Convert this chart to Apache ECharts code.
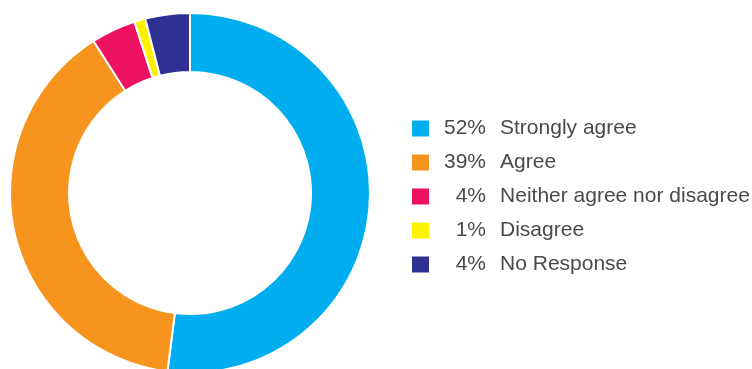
<!DOCTYPE html>
<html>
<head>
<meta charset="utf-8">
<script src="https://cdn.jsdelivr.net/npm/echarts@6/dist/echarts.min.js"></script>
<style>
  html, body { margin: 0; padding: 0; background: #fff; }
  #chart { width: 752px; height: 369px; }
</style>
</head>
<body>
<div id="chart"></div>
<script>
// Survey response shares (percent)
const categories = ['Strongly agree', 'Agree', 'Neither agree nor disagree', 'Disagree', 'No Response'];
const shares = [52, 39, 4, 1, 4];
const colors = ['#00aeef', '#f7941d', '#ed1162', '#fff200', '#2e3192'];

const chart = echarts.init(document.getElementById('chart'), null, { renderer: 'canvas' });

const data = categories.map((name, i) => ({
  name: name,
  value: shares[i],
  itemStyle: { color: colors[i] }
}));

// right-align the percentages by padding single digits with a figure space
function pct(v) {
  const s = String(v);
  return (s.length < 2 ? '\u2007' : '') + s + '%';
}

chart.setOption({
  animation: false,
  legend: {
    orient: 'vertical',
    left: 405,
    top: 113,
    itemWidth: 19,
    itemHeight: 18,
    itemGap: 13,
    icon: 'rect',
    selectedMode: false,
    formatter: function (name) {
      const i = categories.indexOf(name);
      return '{p|' + pct(shares[i]) + '}{n|' + name + '}';
    },
    textStyle: {
      lineHeight: 21,
      rich: {
        p: { padding: [0, 0, 0, 9], fontSize: 21, lineHeight: 21, color: '#4a4a4a', fontFamily: 'Liberation Sans' },
        n: { padding: [0, 0, 0, 14], fontSize: 21, lineHeight: 21, color: '#4a4a4a', fontFamily: 'Liberation Sans' }
      }
    }
  },
  series: [{
    type: 'pie',
    center: [190, 193],
    radius: [121, 180],
    startAngle: 90,
    clockwise: true,
    label: { show: false },
    labelLine: { show: false },
    emphasis: { disabled: true },
    itemStyle: { borderColor: '#fff', borderWidth: 2 },
    data: data
  }]
});
</script>
</body>
</html>
